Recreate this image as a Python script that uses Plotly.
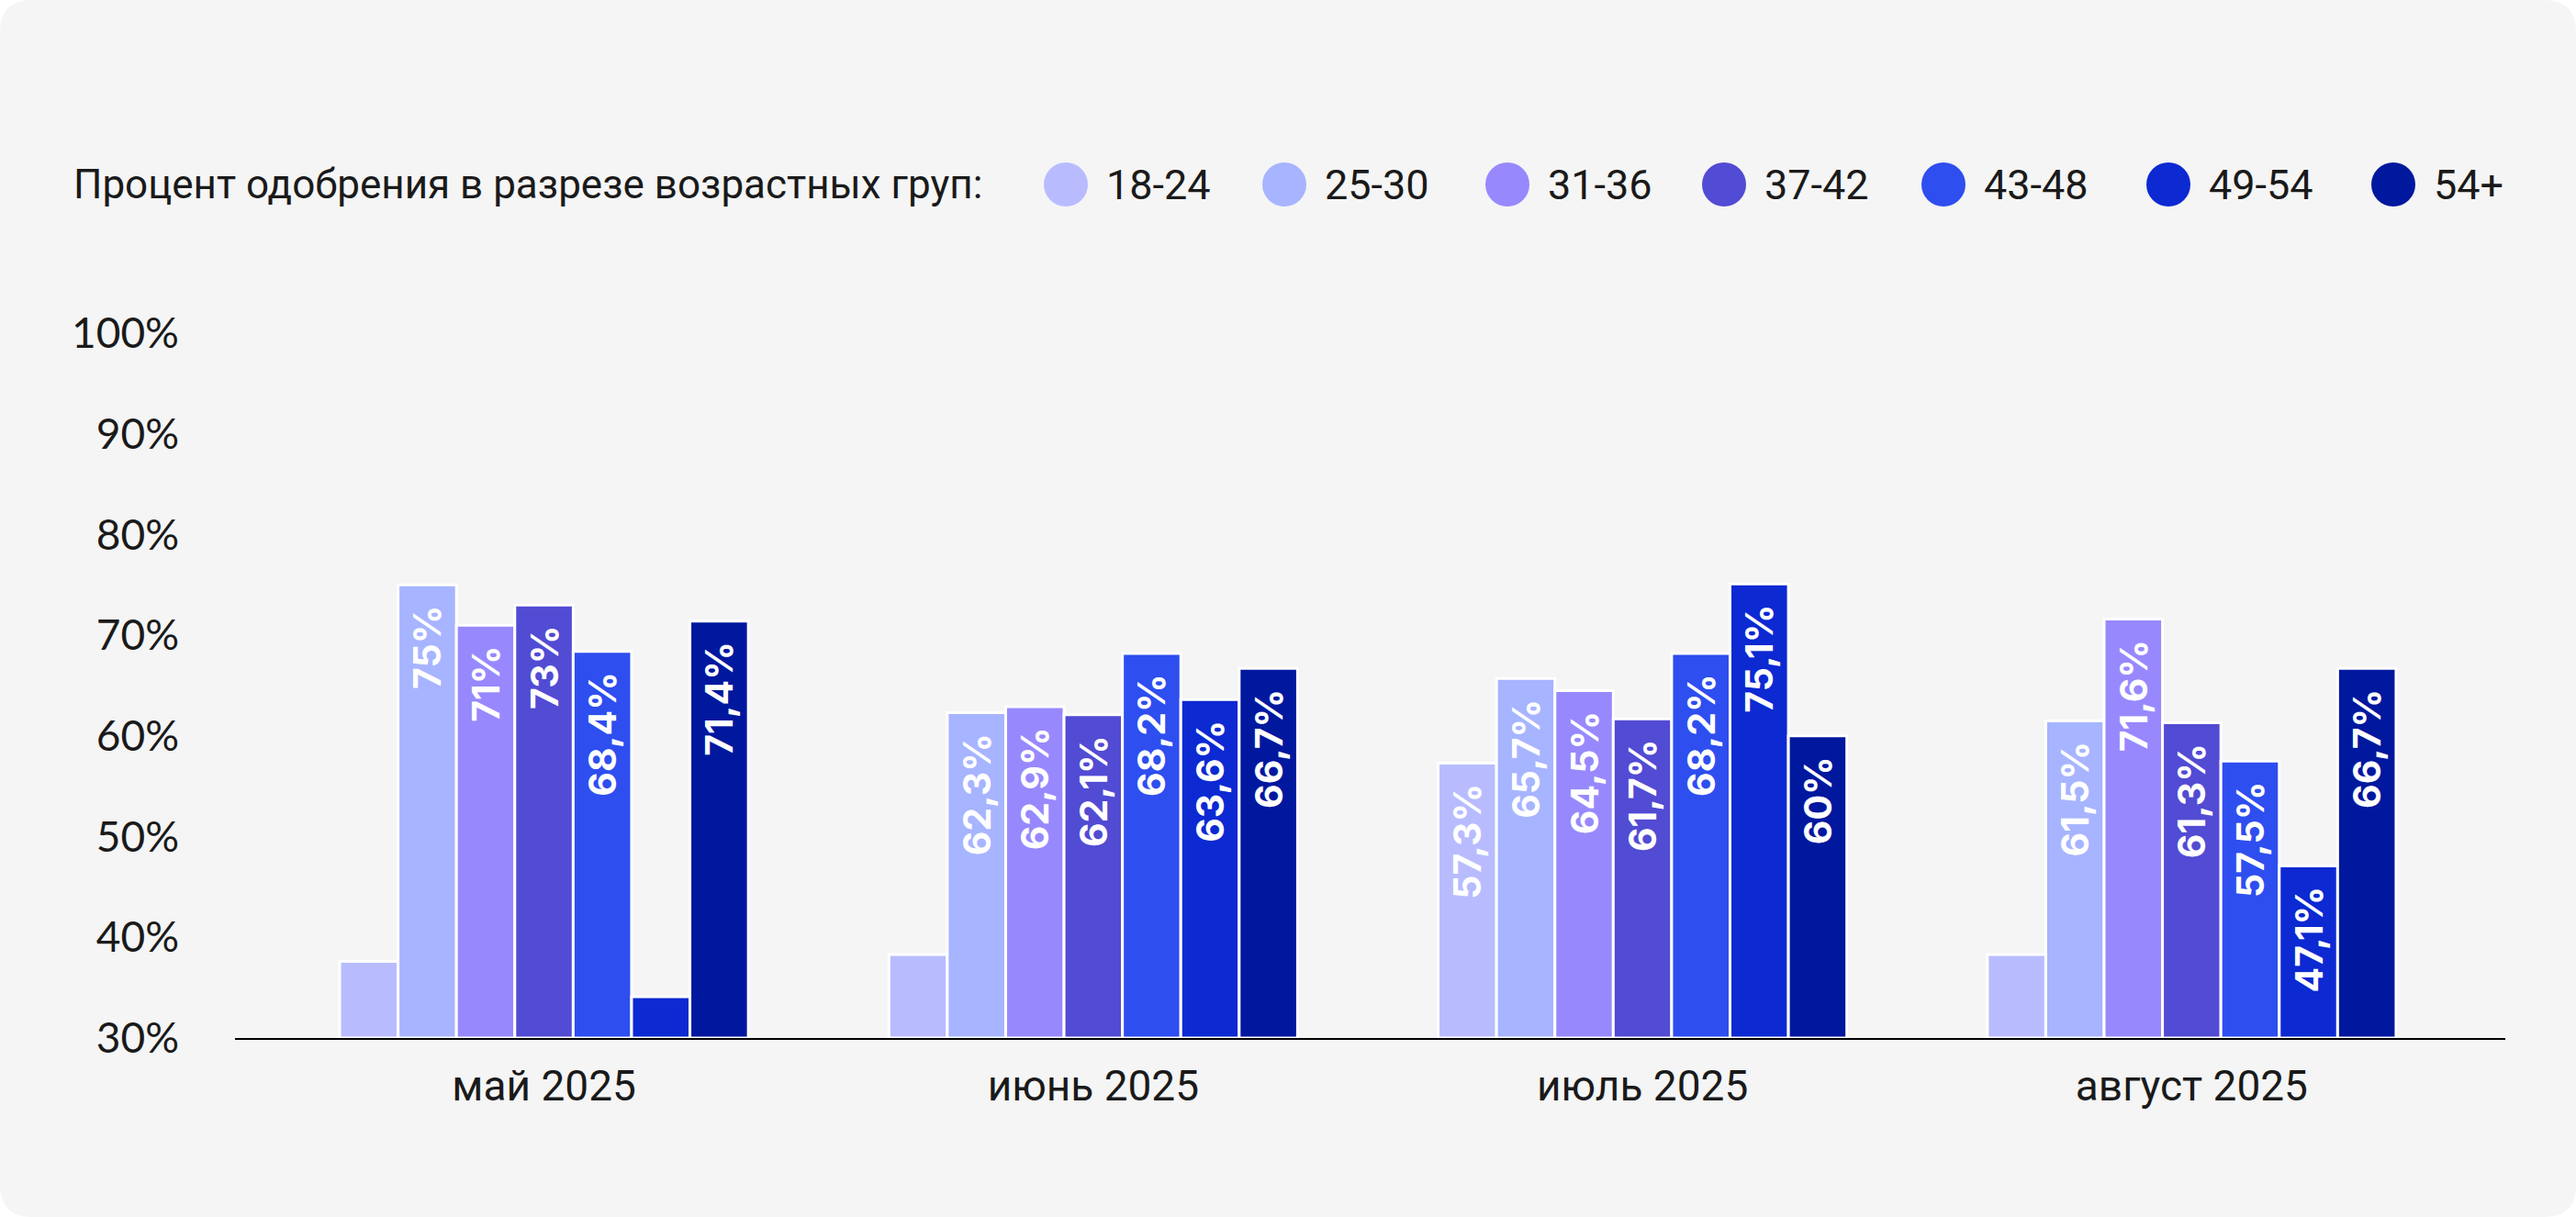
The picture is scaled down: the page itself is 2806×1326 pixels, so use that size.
import plotly.graph_objects as go

# ---- data ----
months = ["май 2025", "июнь 2025", "июль 2025", "август 2025"]
groups = ["18-24", "25-30", "31-36", "37-42", "43-48", "49-54", "54+"]
v_18_24 = [37.6, 38.3, 57.3, 38.3]
v_25_30 = [75.0, 62.3, 65.7, 61.5]
v_31_36 = [71.0, 62.9, 64.5, 71.6]
v_37_42 = [73.0, 62.1, 61.7, 61.3]
v_43_48 = [68.4, 68.2, 68.2, 57.5]
v_49_54 = [34.1, 63.6, 75.1, 47.1]
v_54p = [71.4, 66.7, 60.0, 66.7]
series = [v_18_24, v_25_30, v_31_36, v_37_42, v_43_48, v_49_54, v_54p]
y_ticks = [30, 40, 50, 60, 70, 80, 90, 100]
y_tick_labels = ["30%", "40%", "50%", "60%", "70%", "80%", "90%", "100%"]
legend_title = "Процент одобрения в разрезе возрастных груп:"

# ---- styles ----
colors = ["#B8BCFF", "#A7B4FF", "#9789FD", "#524BD3", "#2E4EEF", "#0C29D2", "#00189E"]
BASE = 30
W, H = 2806, 1326
L, R, T, B = 256, 77, 363, 195
PW, PH = W - L - R, H - T - B


def fx(px):
    return (px - L) / PW


def fy(py):
    return (H - B - py) / PH


def fmt(v):
    # trailing no-break spaces keep the label a little below the bar top
    return ("%g" % v).replace(".", ",") + "%\u00a0\u00a0"


fig = go.Figure()
for name, vals, col in zip(groups, series, colors):
    fig.add_trace(go.Bar(
        name=name, x=months, y=[v - BASE for v in vals], base=[BASE] * len(vals),
        text=[fmt(v) for v in vals], textposition="inside", insidetextanchor="end",
        textangle=-90, marker=dict(color=col, line=dict(color="#ffffff", width=3)),
        textfont=dict(color="white", size=41, family="Inter", weight="bold"),
        hoverinfo="skip",
    ))

shapes = []
# rounded card
r = 35
x0, x1, y0, y1 = 0, W, 0, H
rx, ry = r / PW, r / PH
path = (f"M {fx(x0)+rx},{fy(y0)} L {fx(x1)-rx},{fy(y0)} Q {fx(x1)},{fy(y0)} {fx(x1)},{fy(y0)-ry} "
        f"L {fx(x1)},{fy(y1)+ry} Q {fx(x1)},{fy(y1)} {fx(x1)-rx},{fy(y1)} "
        f"L {fx(x0)+rx},{fy(y1)} Q {fx(x0)},{fy(y1)} {fx(x0)},{fy(y1)+ry} "
        f"L {fx(x0)},{fy(y0)-ry} Q {fx(x0)},{fy(y0)} {fx(x0)+rx},{fy(y0)} Z")
shapes.append(dict(type="path", path=path, xref="paper", yref="paper",
                   fillcolor="#f5f5f5", line=dict(width=0), layer="below"))

annotations = [dict(text=legend_title, x=fx(78), y=fy(201), xref="paper", yref="paper",
                    xanchor="left", yanchor="middle", showarrow=False,
                    font=dict(size=44, color="#1a1a1a", family="Roboto"))]
legend_circle_x = [1161, 1399, 1642, 1878, 2117, 2362, 2607]
for cx, name, col in zip(legend_circle_x, groups, colors):
    shapes.append(dict(type="circle", xref="paper", yref="paper",
                       x0=fx(cx - 24), x1=fx(cx + 24), y0=fy(201 + 24), y1=fy(201 - 24),
                       fillcolor=col, line=dict(width=0)))
    annotations.append(dict(text=name, x=fx(cx + 42), y=fy(201), xref="paper", yref="paper",
                            xanchor="left", yanchor="middle", showarrow=False,
                            font=dict(size=45, color="#1a1a1a", family="Roboto")))

fig.update_layout(
    width=W, height=H, margin=dict(l=L, r=R, t=T, b=B, autoexpand=False),
    paper_bgcolor="#ffffff", plot_bgcolor="#f5f5f5",
    barmode="group", bargap=0.256, bargroupgap=0,
    showlegend=False, shapes=shapes, annotations=annotations,
    uniformtext=dict(minsize=41, mode="hide"),
    xaxis=dict(range=[-0.5626, 3.571], showline=True, linecolor="#000000", linewidth=2,
               ticks="", showgrid=False, zeroline=False, ticklabelstandoff=11,
               tickfont=dict(size=46, color="#1a1a1a", family="Roboto")),
    yaxis=dict(range=[30, 100], tickvals=y_ticks, ticktext=y_tick_labels, showgrid=False,
               zeroline=False, showline=False, ticks="", ticklabelstandoff=60,
               tickfont=dict(size=46, color="#1a1a1a", family="Lato")),
)

fig.write_html("out.html", config={"displayModeBar": False},
               post_script="document.body.style.margin='0';")
